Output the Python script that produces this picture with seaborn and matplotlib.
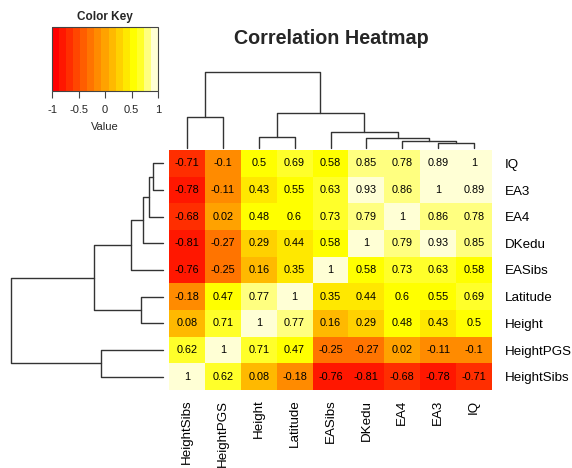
import colorsys
import numpy as np
import pandas as pd

import matplotlib
matplotlib.use('Agg')
import matplotlib.pyplot as plt
from matplotlib.colors import ListedColormap, BoundaryNorm
from matplotlib.cm import ScalarMappable
import seaborn as sns

# Data: column order (left to right) and row order (top to bottom)
col_labels = ["HeightSibs", "HeightPGS", "Height", "Latitude", "EASibs",
              "DKedu", "EA4", "EA3", "IQ"]
row_labels = ["IQ", "EA3", "EA4", "DKedu", "EASibs",
              "Latitude", "Height", "HeightPGS", "HeightSibs"]

iq_row = [-0.71, -0.10, 0.50, 0.69, 0.58, 0.85, 0.78, 0.89, 1.00]
ea3_row = [-0.78, -0.11, 0.43, 0.55, 0.63, 0.93, 0.86, 1.00, 0.89]
ea4_row = [-0.68, 0.02, 0.48, 0.60, 0.73, 0.79, 1.00, 0.86, 0.78]
dkedu_row = [-0.81, -0.27, 0.29, 0.44, 0.58, 1.00, 0.79, 0.93, 0.85]
easibs_row = [-0.76, -0.25, 0.16, 0.35, 1.00, 0.58, 0.73, 0.63, 0.58]
latitude_row = [-0.18, 0.47, 0.77, 1.00, 0.35, 0.44, 0.60, 0.55, 0.69]
height_row = [0.08, 0.71, 1.00, 0.77, 0.16, 0.29, 0.48, 0.43, 0.50]
heightpgs_row = [0.62, 1.00, 0.71, 0.47, -0.25, -0.27, 0.02, -0.11, -0.10]
heightsibs_row = [1.00, 0.62, 0.08, -0.18, -0.76, -0.81, -0.68, -0.78, -0.71]

# Hierarchical clustering merges (shared by rows and columns), heights relative to root
merge_left = ["EA3", "EA4", "DKedu", "EASibs", "Height", "m4", "HeightSibs", "m6"]
merge_right = ["IQ", "m0", "m1", "m2", "Latitude", "m3", "HeightPGS", "m5"]
merge_height = [0.064, 0.094, 0.13, 0.21, 0.142, 0.454, 0.41, 1.0]

key_ticks = [-1, -0.5, 0, 0.5, 1]
key_tick_labels = ["-1", "-0.5", "0", "0.5", "1"]

sns.set_theme(style="white")
plt.rcParams['font.family'] = ['Liberation Sans', 'DejaVu Sans']

# R heat.colors(15)
n_col = 15
j = n_col // 4
i = n_col - j
heat = [colorsys.hsv_to_rgb(h, 1, 1) for h in np.linspace(0, 1 / 6, i)]
heat += [colorsys.hsv_to_rgb(1 / 6, s, 1) for s in np.linspace(1 - 1 / (2 * j), 1 / (2 * j), j)]
cmap = ListedColormap(heat)
norm = BoundaryNorm(np.linspace(-1, 1, n_col + 1), n_col)

corr = pd.DataFrame([iq_row, ea3_row, ea4_row, dkedu_row, easibs_row,
                     latitude_row, height_row, heightpgs_row, heightsibs_row],
                    index=row_labels, columns=col_labels)
annot = corr.map(lambda v: f"{v:g}")

W, H = 572, 468
fig = plt.figure(figsize=(W / 100, H / 100), dpi=100)


def px_axes(x0, y0, x1, y1):
    return fig.add_axes([x0 / W, 1 - y1 / H, (x1 - x0) / W, (y1 - y0) / H])


# 1. Heatmap
ax = px_axes(169, 150, 492, 390)
sns.heatmap(corr, ax=ax, cmap=cmap, norm=norm, annot=annot, fmt="", cbar=False,
            annot_kws={"size": 7.8, "color": "black"}, linewidths=0)
ax.yaxis.tick_right()
ax.set_yticklabels(row_labels, rotation=0, fontsize=9.6, color="black")
ax.set_xticklabels(col_labels, rotation=90, fontsize=9.6, color="black")
ax.tick_params(axis='y', length=0, pad=9)
ax.tick_params(axis='x', length=0, pad=7)
ax.set_xlabel("")
ax.set_ylabel("")


def dendro_segments(leaves):
    pos = {name: k + 0.5 for k, name in enumerate(leaves)}
    hgt = {name: 0.0 for name in leaves}
    segs = []
    for k, (a, b, h) in enumerate(zip(merge_left, merge_right, merge_height)):
        segs.append(((pos[a], hgt[a]), (pos[a], h), (pos[b], h), (pos[b], hgt[b])))
        pos[f"m{k}"] = (pos[a] + pos[b]) / 2
        hgt[f"m{k}"] = h
    return segs


# 2. Column dendrogram
ax_top = px_axes(169, 72, 492, 148)
for seg in dendro_segments(col_labels):
    xs, ys = zip(*seg)
    ax_top.plot(xs, ys, color="#333333", lw=1, clip_on=False)
ax_top.set_xlim(0, 9)
ax_top.set_ylim(0, 1)
ax_top.axis("off")

# 3. Row dendrogram
ax_left = px_axes(11, 150, 163, 390)
for seg in dendro_segments(row_labels):
    ys, xs = zip(*seg)
    ax_left.plot(xs, ys, color="#333333", lw=1, clip_on=False)
ax_left.set_xlim(1, 0)
ax_left.set_ylim(9, 0)
ax_left.axis("off")

# 4. Color key
ax_key = px_axes(52, 27, 158, 91)
cb = fig.colorbar(ScalarMappable(norm=norm, cmap=cmap), cax=ax_key, orientation="horizontal")
cb.minorticks_off()
cb.outline.set_edgecolor("#444444")
cb.outline.set_linewidth(0.8)
cb.set_ticks(key_ticks)
cb.set_ticklabels(key_tick_labels)
ax_key.tick_params(axis='x', which='major', length=5, width=0.8, color="#444444",
                   labelsize=8, pad=5, bottom=True, direction="out")
ax_key.set_xlabel("Value", fontsize=8, labelpad=5)
ax_key.set_title("Color Key", fontsize=8.5, fontweight="bold", pad=5)

# 5. Title
fig.text(331 / W, 1 - 38 / H, "Correlation Heatmap", ha="center", va="center",
         fontsize=14.2, fontweight="bold")

fig.savefig("out.png", dpi=100)
